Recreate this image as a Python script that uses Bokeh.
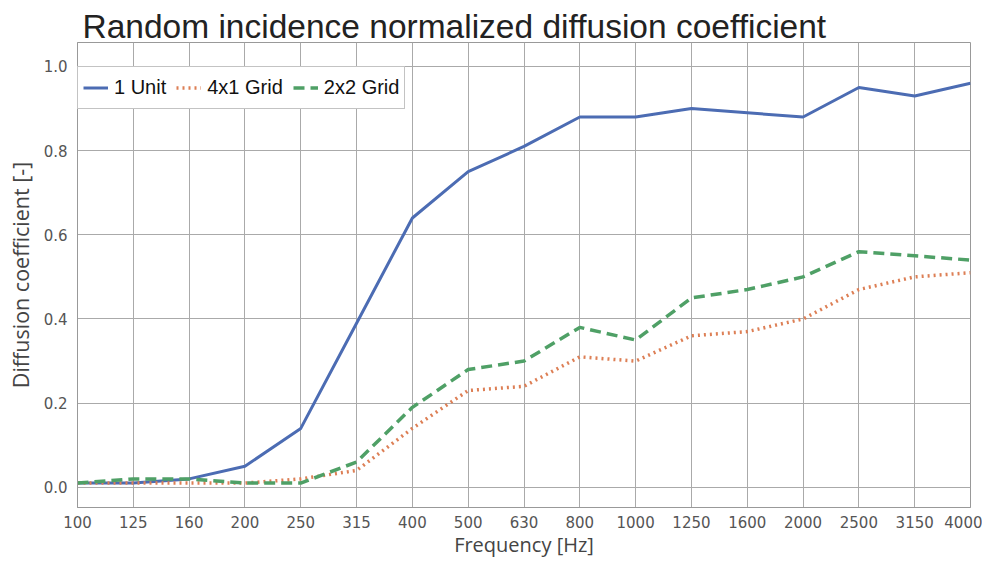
from bokeh.plotting import figure
from bokeh.models import Range1d, FixedTicker, Legend, LegendItem
from bokeh.embed import file_html
from bokeh.resources import INLINE

freqs = ["100", "125", "160", "200", "250", "315", "400", "500", "630", "800",
         "1000", "1250", "1600", "2000", "2500", "3150", "4000"]
unit1 = [0.01, 0.01, 0.02, 0.05, 0.14, 0.39, 0.64, 0.75, 0.81, 0.88, 0.88, 0.90, 0.89, 0.88, 0.95, 0.93, 0.96]
grid4x1 = [0.01, 0.01, 0.01, 0.01, 0.02, 0.04, 0.14, 0.23, 0.24, 0.31, 0.30, 0.36, 0.37, 0.40, 0.47, 0.50, 0.51]
grid2x2 = [0.01, 0.02, 0.02, 0.01, 0.01, 0.06, 0.19, 0.28, 0.30, 0.38, 0.35, 0.45, 0.47, 0.50, 0.56, 0.55, 0.54]
y_ticks = [0.0, 0.2, 0.4, 0.6, 0.8, 1.0]

xs = list(range(len(freqs)))

p = figure(width=982, height=561, output_backend="svg", toolbar_location=None,
           x_range=Range1d(0, len(freqs) - 1), y_range=Range1d(-0.048, 1.057),
           min_border_left=77, min_border_right=12, min_border_bottom=54, min_border_top=42)

p.title.text = "Random incidence normalized diffusion coefficient"
p.title.text_font = "Liberation Sans"
p.title.text_font_style = "normal"
p.title.text_font_size = "33.5px"
p.title.text_color = "#222222"
p.title.offset = 5
p.title.standoff = -5
p.title.vertical_align = "bottom"

p.xaxis.ticker = FixedTicker(ticks=xs)
p.xaxis.major_label_overrides = {i: f for i, f in enumerate(freqs)}
p.yaxis.ticker = FixedTicker(ticks=y_ticks)
p.yaxis.major_label_overrides = {v: f"{v:.1f}" for v in y_ticks}

for ax in (p.xaxis[0], p.yaxis[0]):
    ax.major_tick_line_color = None
    ax.minor_tick_line_color = None
    ax.axis_line_color = "#999999"
    ax.major_label_text_font = "DejaVu Sans"
    ax.major_label_text_font_size = "15px"
    ax.major_label_text_color = "#555555"
    ax.axis_label_text_font = "Open Sans"
    ax.axis_label_text_font_style = "normal"
    ax.axis_label_text_color = "#444444"

p.xaxis.axis_label_text_font_size = "20px"
p.yaxis.axis_label_text_font_size = "21.5px"
p.xaxis.axis_label = "Frequency [Hz]"
p.yaxis.axis_label = "Diffusion coefficient [-]"
p.xaxis.major_label_standoff = 2
p.yaxis.major_label_standoff = 4
p.xaxis.axis_label_standoff = 0
p.yaxis.axis_label_standoff = 6

p.xgrid.ticker = FixedTicker(ticks=xs)
p.ygrid.ticker = FixedTicker(ticks=y_ticks)
p.grid.grid_line_color = "#aaaaaa"
p.grid.grid_line_alpha = 1.0
p.outline_line_color = "#999999"

r1 = p.line(xs, unit1, line_color="#4C6CB3", line_width=3)
r2 = p.line(xs, grid4x1, line_color="#DD7F55", line_width=3.5, line_dash="2 4")
r3 = p.line(xs, grid2x2, line_color="#4FA066", line_width=3.5, line_dash="11 6")

legend = Legend(items=[LegendItem(label="1 Unit", renderers=[r1]),
                       LegendItem(label="4x1 Grid", renderers=[r2]),
                       LegendItem(label="2x2 Grid", renderers=[r3])],
                orientation="horizontal", location=(0, 398), margin=0,
                label_text_font="Liberation Sans", label_text_font_size="20px",
                label_text_color="#111111", border_line_color="#888888",
                glyph_width=25, glyph_height=31, spacing=10, padding=5, label_standoff=6,
                background_fill_alpha=1.0)
p.add_layout(legend, "center")

open("out.html", "w").write(file_html(p, INLINE))
